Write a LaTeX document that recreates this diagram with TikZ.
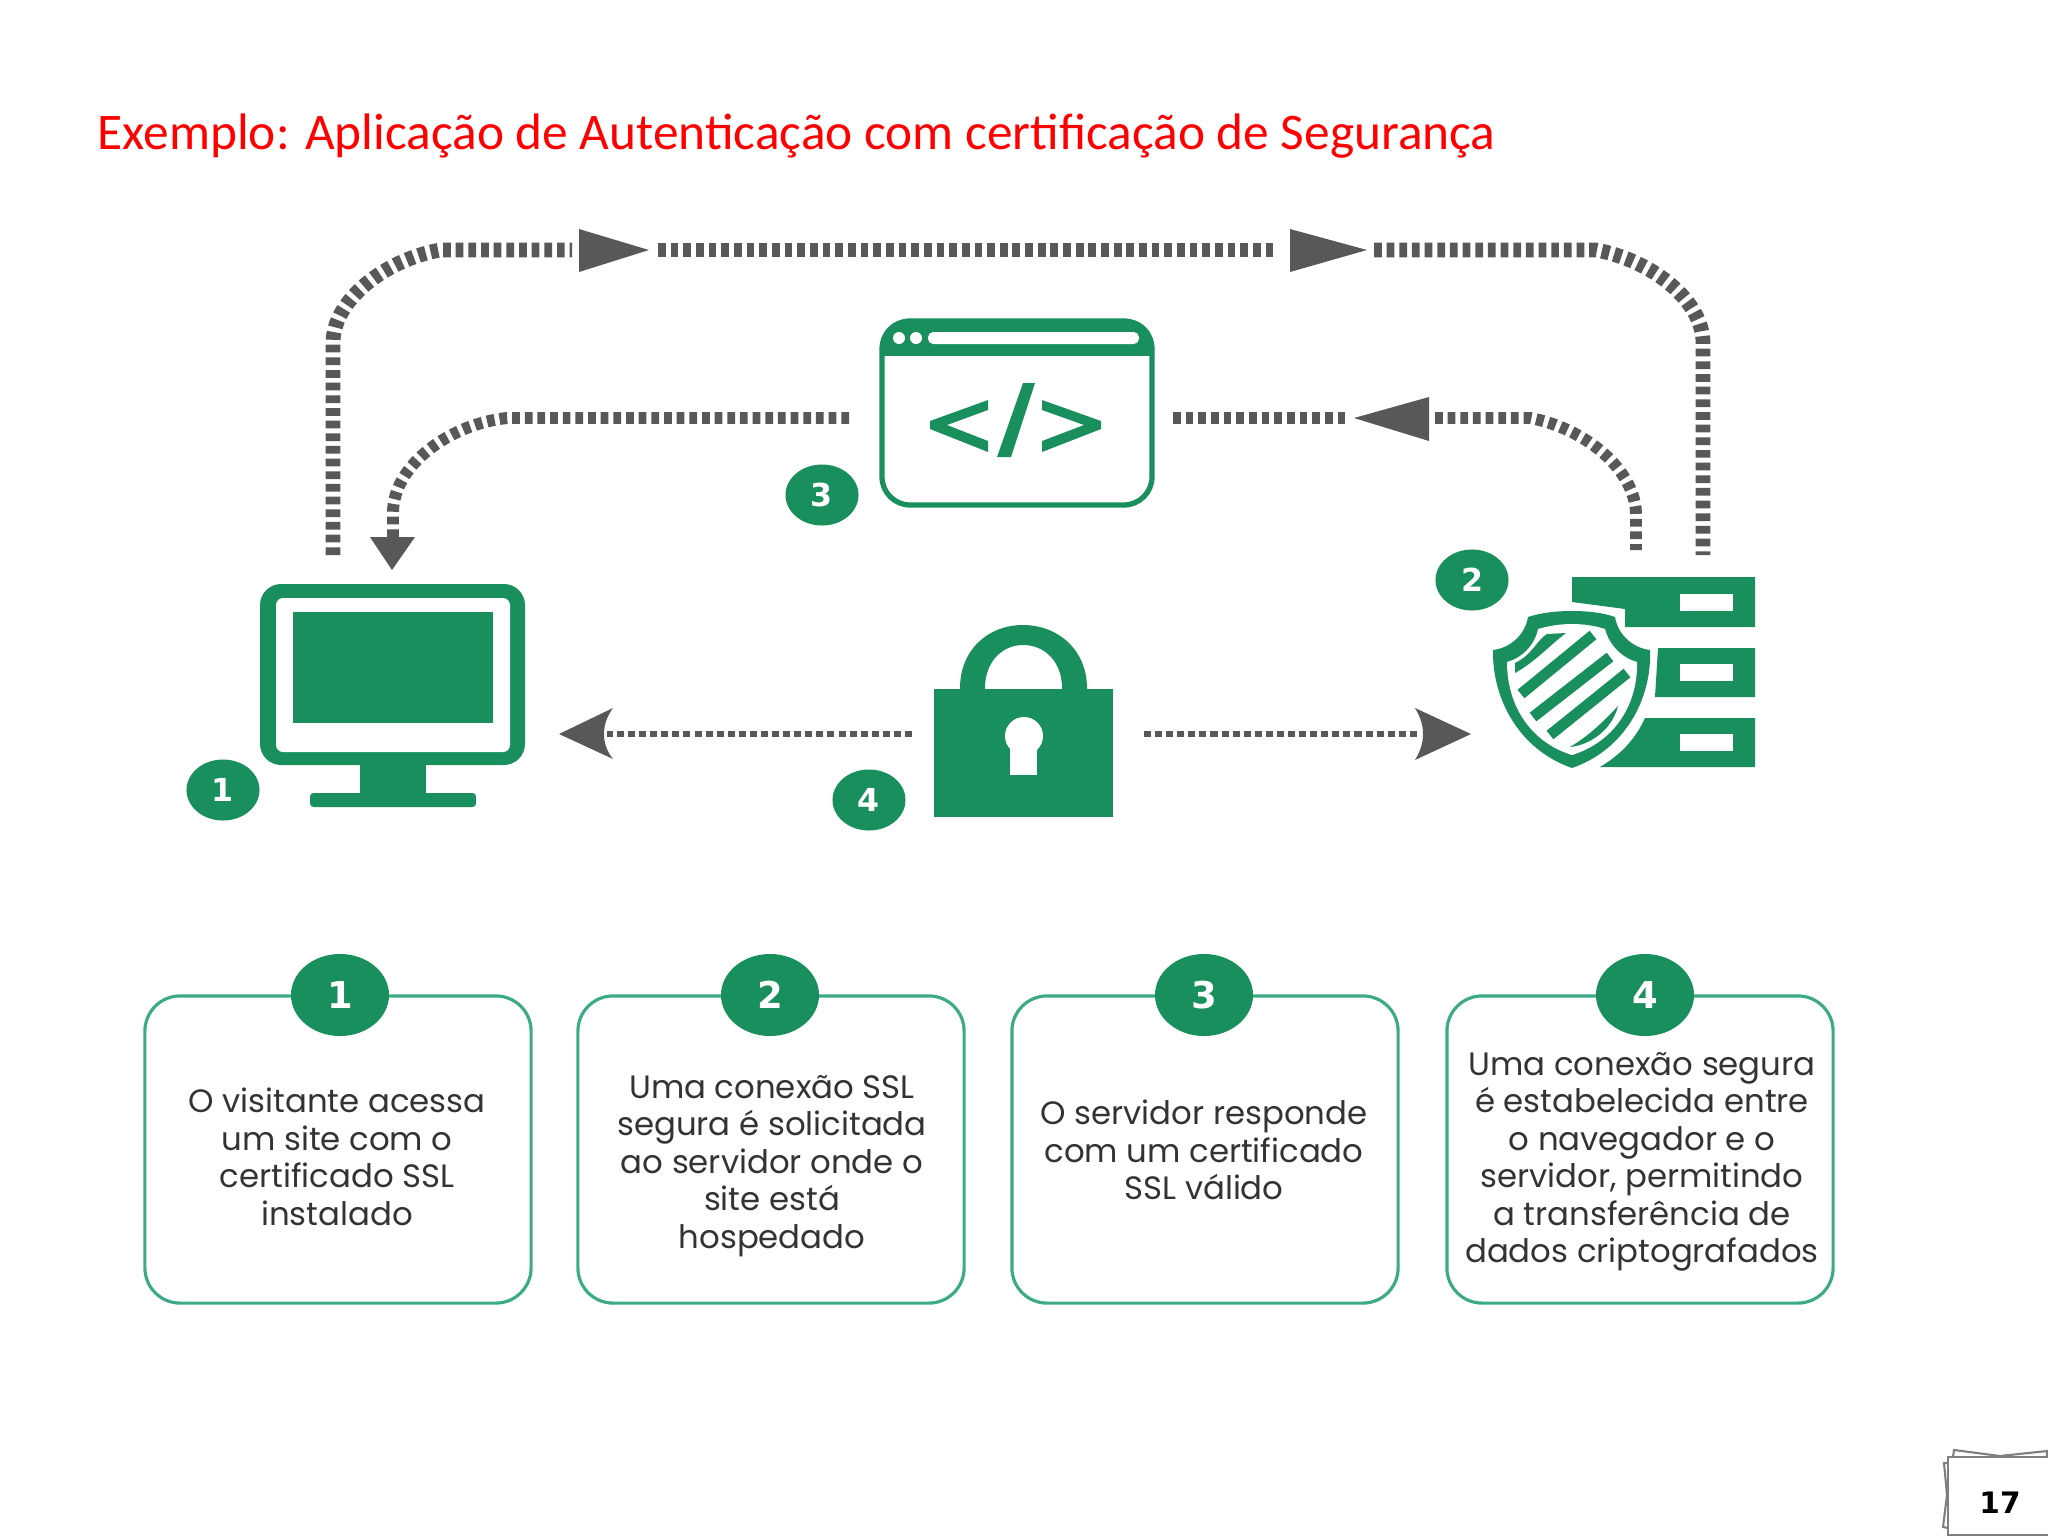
\documentclass[tikz,border=0pt]{standalone}
\usepackage{fontspec}
\setmainfont{Poppins}
\newfontfamily\titlefont{Carlito}
\newfontfamily\digitfont{DejaVu Sans}
\usetikzlibrary{shapes.geometric}
\definecolor{sslgreen}{HTML}{1A8F5E}
\definecolor{sslgray}{HTML}{58585A}
\definecolor{sslline}{HTML}{3DAA87}
\definecolor{slate}{HTML}{7F7F7F}
\tikzset{
	widepath/.style={draw=sslgray, line width=4.2pt, dash pattern=on 2.2pt off 1.4pt},
	midpath/.style={draw=sslgray, line width=3.4pt, dash pattern=on 2.2pt off 1.4pt},
	finepath/.style={draw=sslgray, line width=1.7pt, dash pattern=on 2pt off 1.15pt},
	smallbadge/.style={ellipse, fill=sslgreen, text=white, inner sep=0pt, minimum width=73*.2845pt, minimum height=61*.2845pt, font=\digitfont\bfseries\fontsize{9}{9}\selectfont},
	bigbadge/.style={ellipse, fill=sslgreen, text=white, inner sep=0pt, minimum width=98*.2845pt, minimum height=82*.2845pt, font=\digitfont\bfseries\fontsize{10.5}{10.5}\selectfont},
	stepbox/.style={draw=sslline, line width=.9pt, rounded corners=10pt, minimum width=386*.2845pt, minimum height=307*.2845pt},
	steptext/.style={align=center, text=black!80, font=\fontsize{9.2}{10.66}\selectfont}
}
\begin{document}
\begin{tikzpicture}[x=.01cm, y=-.01cm]
	\useasboundingbox (0, 0) rectangle (2048, 1536);
	\node[anchor=base west, inner sep=0pt, text=red, font=\titlefont\fontsize{14.6}{14.6}\selectfont] (title) at (97, 149) {Exemplo: Aplicação de Autenticação com certificação de Segurança};

	\coordinate (pcOut) at (333, 555);
	\coordinate (headOneBack) at (572, 250);
	\coordinate (headOneTip) at (658, 250);
	\coordinate (headTwoBack) at (1277, 250);
	\coordinate (headTwoTip) at (1374, 250);
	\coordinate (srvOut) at (1703, 555);
	\coordinate (srvBack) at (1636, 550);
	\coordinate (headThreeBack) at (1435, 418);
	\coordinate (headThreeTip) at (1348, 418);
	\coordinate (winRight) at (1173, 418);
	\coordinate (winLeft) at (849, 418);
	\coordinate (headFourBack) at (393, 537);
	\coordinate (lockLeft) at (912, 734);
	\coordinate (headFiveBack) at (607, 734);
	\coordinate (lockRight) at (1144, 734);
	\coordinate (headSixBack) at (1420, 734);

	\draw[widepath] (pcOut) -- (333, 343) .. controls (333, 300) and (385, 260) .. (440, 250) -- (headOneBack);
	\draw[widepath] (headOneTip) -- (headTwoBack);
	\draw[widepath] (headTwoTip) -- (1596, 250) .. controls (1651, 260) and (1703, 300) .. (1703, 343) -- (srvOut);
	\draw[midpath] (winLeft) -- (507, 418) .. controls (450, 424) and (393, 465) .. (393, 513) -- (headFourBack);
	\draw[midpath] (winRight) -- (headThreeTip);
	\draw[midpath] (headThreeBack) -- (1530, 418) .. controls (1585, 428) and (1636, 470) .. (1636, 515) -- (srvBack);
	\draw[finepath] (lockLeft) -- (headFiveBack);
	\draw[finepath] (lockRight) -- (headSixBack);

	\fill[sslgray] (579, 229) -- (649, 250) -- (579, 272) -- cycle;
	\fill[sslgray] (1290, 229) -- (1367, 250) -- (1290, 272) -- cycle;
	\fill[sslgray] (1429, 397) -- (1354, 418) -- (1429, 441) -- cycle;
	\fill[sslgray] (370, 537) -- (415, 537) -- (392, 570) -- cycle;
	\fill[sslgray] (613, 708) -- (559, 734) -- (613, 759) .. controls (606, 750) and (604, 742) .. (604, 734) .. controls (604, 726) and (606, 718) .. (613, 708) -- cycle;
	\fill[sslgray] (1415, 708) -- (1471, 734) -- (1415, 760) .. controls (1421, 750) and (1423, 742) .. (1423, 734) .. controls (1423, 726) and (1421, 718) .. (1415, 708) -- cycle;

	\fill[sslgreen, rounded corners=6pt] (260, 584) rectangle (525, 765);
	\fill[white, rounded corners=2pt] (276, 598) rectangle (510, 752);
	\fill[sslgreen] (293, 612) rectangle (493, 723);
	\fill[sslgreen] (360, 760) rectangle (426, 795);
	\fill[sslgreen, rounded corners=1pt] (310, 793) rectangle (476, 807);

	\draw[sslgreen, line width=1.5pt, rounded corners=8pt] (882, 321) rectangle (1152, 505);
	\begin{scope}
		\clip (870, 310) rectangle (1160, 355);
		\fill[sslgreen, rounded corners=8pt] (880, 319) rectangle (1154, 420);
	\end{scope}
	\fill[white] (899, 338) circle (6);
	\fill[white] (916, 338) circle (6);
	\fill[white, rounded corners=1.5pt] (928, 332) rectangle (1139, 344);
	\fill[sslgreen] (988, 400) -- (930, 421) -- (930, 429) -- (988, 452) -- (988, 441) -- (947, 425) -- (988, 410) -- cycle;
	\fill[sslgreen] (1023, 383) -- (1035, 383) -- (1011, 457) -- (997, 457) -- cycle;
	\fill[sslgreen] (1042, 400) -- (1101, 421) -- (1101, 429) -- (1042, 452) -- (1042, 441) -- (1084, 425) -- (1042, 410) -- cycle;

	\fill[sslgreen] (960, 692) -- (960, 688) .. controls (960, 650) and (988, 625) .. (1023, 625) .. controls (1058, 625) and (1087, 650) .. (1087, 688) -- (1087, 692) -- (1062, 692) -- (1062, 688) .. controls (1062, 662) and (1045, 645) .. (1023, 645) .. controls (1002, 645) and (985, 662) .. (985, 688) -- (985, 692) -- cycle;
	\fill[sslgreen] (934, 689) rectangle (1113, 817);
	\fill[white] (1024, 736) circle (19);
	\fill[white] (1010, 740) rectangle (1037, 775);

	\fill[sslgreen] (1572, 577) -- (1755, 577) -- (1755, 627) -- (1625, 627) -- (1625, 609) -- (1572, 602) -- cycle;
	\fill[sslgreen] (1658, 648) -- (1755, 648) -- (1755, 697) -- (1655, 697) -- cycle;
	\fill[sslgreen] (1645, 718) -- (1755, 718) -- (1755, 767) -- (1600, 767) .. controls (1620, 755) and (1635, 740) .. (1645, 718);
	\fill[white] (1680, 594) rectangle (1733, 611);
	\fill[white] (1680, 664) rectangle (1733, 681);
	\fill[white] (1680, 734) rectangle (1733, 751);
	\fill[sslgreen] (1572, 611) .. controls (1555, 611) and (1540, 613) .. (1528, 617) .. controls (1525, 635) and (1510, 648) .. (1493, 650) .. controls (1492, 700) and (1520, 750) .. (1572, 768) .. controls (1624, 750) and (1652, 700) .. (1650, 650) .. controls (1633, 648) and (1618, 635) .. (1615, 617) .. controls (1604, 613) and (1589, 611) .. (1572, 611) -- cycle;
	\fill[white] (1572, 624) .. controls (1560, 624) and (1548, 626) .. (1538, 629) .. controls (1535, 645) and (1522, 658) .. (1507, 662) .. controls (1507, 705) and (1530, 742) .. (1572, 755) .. controls (1614, 742) and (1638, 705) .. (1637, 662) .. controls (1622, 658) and (1609, 645) .. (1605, 629) .. controls (1596, 626) and (1584, 624) .. (1572, 624) -- cycle;
	\fill[sslgreen] (1515, 663) .. controls (1532, 655) and (1537, 640) .. (1547, 634) -- (1566, 633) .. controls (1550, 645) and (1535, 662) .. (1515, 673) -- cycle;
	\draw[sslgreen, line width=3.1pt] (1521, 694) -- (1593, 635);
	\draw[sslgreen, line width=3.1pt] (1533, 717) -- (1610, 657);
	\draw[sslgreen, line width=3.1pt] (1550, 735) -- (1627, 673);
	\fill[sslgreen] (1570, 747) .. controls (1590, 735) and (1605, 720) .. (1618, 706) .. controls (1612, 730) and (1590, 745) .. (1570, 747) -- cycle;

	\node[smallbadge] (markA) at (223, 790) {1};
	\node[smallbadge] (markB) at (1472, 580) {2};
	\node[smallbadge] (markC) at (822, 495) {3};
	\node[smallbadge] (markD) at (869, 800) {4};

	\node[stepbox] (boxA) at (338, 1149.5) {};
	\node[stepbox] (boxB) at (771, 1149.5) {};
	\node[stepbox] (boxC) at (1205, 1149.5) {};
	\node[stepbox] (boxD) at (1640, 1149.5) {};

	\node[bigbadge] (numA) at (340, 995) {1};
	\node[bigbadge] (numB) at (770, 995) {2};
	\node[bigbadge] (numC) at (1204, 995) {3};
	\node[bigbadge] (numD) at (1645, 995) {4};

	\node[steptext] (textA) at (337, 1157) {O visitante acessa\\um site com o\\certificado SSL\\instalado};
	\node[steptext] (textB) at (772, 1166) {Uma conexão SSL\\segura é solicitada\\ao servidor onde o\\site está\\hospedado};
	\node[steptext] (textC) at (1204, 1150) {O servidor responde\\com um certificado\\SSL válido};
	\node[steptext] (textD) at (1642, 1162) {Uma conexão segura\\é estabelecida entre\\o navegador e o\\servidor, permitindo\\a transferência de\\dados criptografados};

	\draw[slate, line width=.6pt] (1953, 1457) -- (1954, 1450) -- (2000, 1456) -- (2047, 1451) -- (2047, 1457);
	\draw[slate, line width=.6pt] (1948, 1463) -- (1944, 1463) -- (1947, 1495) -- (1943, 1527) -- (1948, 1528);
	\draw[slate, line width=.7pt] (2060, 1457) -- (1948, 1457) -- (1948, 1535) -- (2060, 1535);
	\node[font=\digitfont\bfseries\fontsize{8.4}{8.4}\selectfont] (pageNum) at (2000, 1503) {17};
\end{tikzpicture}
\end{document}
